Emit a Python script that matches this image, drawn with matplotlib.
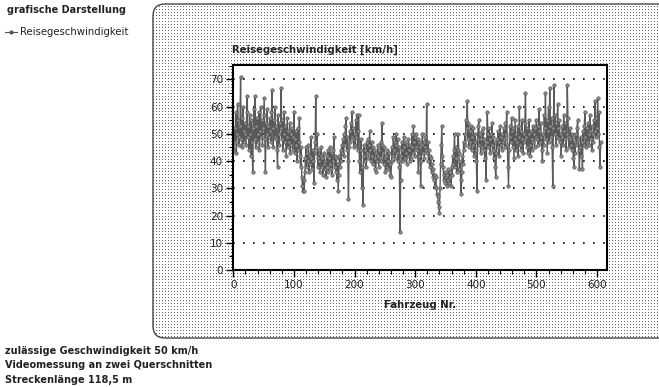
import numpy as np
import matplotlib
matplotlib.use('Agg')
import matplotlib.pyplot as plt
from matplotlib.patches import FancyBboxPatch
from matplotlib.ticker import MultipleLocator

# Reisegeschwindigkeit je Fahrzeug
speed = [
    44, 52, 47, 58, 43, 50, 61, 55, 46, 49, 53, 71, 48, 56, 45, 60, 51, 47, 54, 50,
    46, 58, 64, 49, 53, 44, 57, 50, 42, 55, 47, 36, 52, 59, 48, 64, 45, 53, 56, 50,
    47, 58, 44, 51, 60, 49, 55, 46, 52, 57, 63, 48, 36, 54, 50, 59, 45, 53, 49, 56,
    51, 47, 58, 66, 52, 45, 55, 49, 60, 48, 53, 44, 38, 57, 50, 46, 54, 52, 67, 48,
    55, 44, 50, 58, 47, 53, 42, 49, 56, 45, 51, 47, 54, 43, 50, 46, 52, 44, 49, 58,
    48, 43, 51, 46, 40, 52, 44, 47, 56, 42, 38, 45, 34, 31, 29, 33, 29, 36, 41, 45,
    38, 43, 40, 46, 36, 42, 39, 49, 41, 37, 44, 40, 32, 43, 47, 64, 45, 50, 41, 38,
    44, 40, 36, 42, 45, 38, 41, 35, 43, 39, 37, 40, 34, 42, 38, 44, 36, 41, 45, 39,
    37, 43, 35, 40, 44, 49, 38, 42, 36, 41, 33, 39, 29, 35, 42, 38, 44, 40, 46, 43,
    48, 42, 50, 46, 53, 56, 44, 49, 40, 26, 45, 51, 47, 54, 49, 58, 48, 52, 45, 50,
    46, 55, 49, 57, 44, 51, 57, 40, 36, 44, 48, 30, 38, 24, 42, 46, 40, 44, 38, 47,
    43, 48, 41, 46, 51, 44, 40, 47, 42, 45, 39, 44, 41, 37, 36, 43, 40, 46, 42, 38,
    44, 41, 47, 40, 54, 46, 43, 39, 45, 41, 36, 42, 38, 44, 40, 37, 43, 39, 35, 34,
    40, 45, 42, 49, 44, 47, 41, 50, 46, 43, 48, 40, 45, 38, 14, 33, 42, 47, 44, 40,
    49, 45, 41, 47, 43, 39, 46, 42, 48, 44, 40, 46, 41, 45, 50, 43, 53, 47, 42, 49,
    45, 50, 44, 48, 36, 42, 47, 45, 31, 40, 46, 50, 43, 47, 41, 45, 49, 44, 61, 43,
    47, 40, 44, 38, 42, 41, 36, 39, 34, 37, 33, 35, 31, 34, 30, 28, 27, 25, 23, 21,
    30, 39, 46, 53, 42, 38, 35, 33, 36, 32, 34, 31, 35, 33, 37, 32, 34, 36, 31, 38,
    35, 42, 39, 44, 50, 38, 45, 41, 36, 44, 50, 43, 37, 40, 33, 28, 36, 42, 39, 47,
    44, 50, 46, 55, 52, 62, 48, 54, 45, 51, 47, 53, 44, 49, 46, 52, 42, 47, 50, 44,
    40, 29, 48, 53, 55, 46, 50, 43, 48, 45, 51, 52, 44, 48, 41, 46, 33, 47, 58, 50,
    45, 52, 48, 43, 50, 46, 54, 44, 49, 41, 47, 38, 34, 43, 48, 45, 51, 42, 47, 53,
    46, 49, 44, 50, 47, 52, 48, 45, 54, 50, 58, 46, 38, 31, 44, 49, 53, 47, 56, 51,
    45, 52, 41, 48, 55, 44, 50, 47, 53, 42, 49, 60, 46, 51, 44, 55, 48, 43, 50, 47,
    54, 65, 49, 45, 52, 43, 50, 55, 46, 42, 51, 48, 44, 53, 47, 50, 45, 52, 49, 55,
    48, 53, 46, 59, 51, 47, 54, 49, 44, 40, 50, 46, 57, 52, 65, 48, 55, 43, 51, 60,
    47, 67, 53, 49, 56, 45, 31, 52, 68, 50, 57, 46, 54, 49, 61, 52, 48, 55, 47, 50,
    42, 49, 53, 46, 57, 51, 48, 54, 44, 50, 68, 56, 49, 45, 48, 52, 46, 50, 44, 49,
    41, 38, 47, 43, 50, 46, 52, 55, 48, 44, 37, 45, 49, 42, 47, 37, 51, 46, 53, 58,
    49, 45, 52, 47, 54, 50, 46, 57, 51, 48, 53, 44, 50, 47, 55, 51, 62, 49, 56, 52,
    63, 50, 58, 45, 38, 47,
]
vehicle = np.arange(1, len(speed) + 1)

y_ticks = [0, 10, 20, 30, 40, 50, 60, 70]
x_ticks = [0, 100, 200, 300, 400, 500, 600]

header = 'grafische Darstellung'
series_name = 'Reisegeschwindigkeit'
y_title = 'Reisegeschwindigkeit [km/h]'
x_title = 'Fahrzeug Nr.'
notes = ['zulässige Geschwindigkeit 50 km/h',
         'Videomessung an zwei Querschnitten',
         'Streckenlänge 118,5 m']

W, H = 659, 387
fig = plt.figure(figsize=(W / 100, H / 100), dpi=100)
fig.patch.set_facecolor('white')

# Hintergrund-Achse in Pixelkoordinaten
bg = fig.add_axes([0, 0, 1, 1])
bg.set_xlim(0, W)
bg.set_ylim(H, 0)
bg.axis('off')

# gerasterter Rahmen mit runden Ecken (rechts angeschnitten)
img = np.ones((H, W, 3))
ii, jj = np.mgrid[0:H, 0:W]
dots = (ii % 3 == 0) & (jj % 3 == 0)
img[dots] = 0.4
box = FancyBboxPatch((153, 4), 530, 334, boxstyle='round,pad=0,rounding_size=12',
                     facecolor='none', edgecolor='#444444', lw=1.0)
bg.add_patch(box)
im = bg.imshow(img, extent=(0, W, H, 0), interpolation='nearest', zorder=0)
im.set_clip_path(box)

txt = dict(color='#222222', fontsize=7, fontweight='bold', va='center', ha='left')
bg.text(7, 10, header, **txt)
bg.plot([5, 17], [32, 32], color='#555555', lw=0.8)
bg.plot([11], [32], 'o', color='#555555', ms=2)
bg.text(20, 32, series_name, color='#222222', fontsize=7.3, va='center', ha='left')
for k, line in enumerate(notes):
    bg.text(5, 351 + k * 14.5, line, **txt)
bg.text(232, 50, y_title, color='#222222', fontsize=7.3, fontweight='bold', va='center', ha='left')
bg.text(420, 305, x_title, color='#222222', fontsize=7.3, fontweight='bold', va='center', ha='center')

# Diagramm
left, right, top, bottom = 232.7, 607.3, 65, 270
ax = fig.add_axes([left / W, 1 - bottom / H, (right - left) / W, (bottom - top) / H])
ax.set_facecolor('white')
ax.plot(vehicle, speed, color='#5a5a5a', lw=1.0, marker='o', ms=2.5,
        markerfacecolor='#8a8a8a', markeredgecolor='#4a4a4a', markeredgewidth=0.4)
ax.set_xlim(-1, 617)
ax.set_ylim(0, 75.3)
ax.set_yticks(y_ticks)
ax.set_xticks(x_ticks)
ax.yaxis.set_minor_locator(MultipleLocator(5))
ax.xaxis.set_minor_locator(MultipleLocator(20))
ax.tick_params(axis='both', which='major', direction='out', length=5, width=1,
               labelsize=7.5, labelcolor='#222222', pad=2)
ax.tick_params(axis='both', which='minor', direction='out', length=3, width=0.8)
for s in ax.spines.values():
    s.set_linewidth(1.5)
for v in y_ticks[1:]:
    ax.axhline(v, color='black', lw=1.2, linestyle=(0, (1, 5)), zorder=0.5)

plt.savefig('out.png', dpi=100)
